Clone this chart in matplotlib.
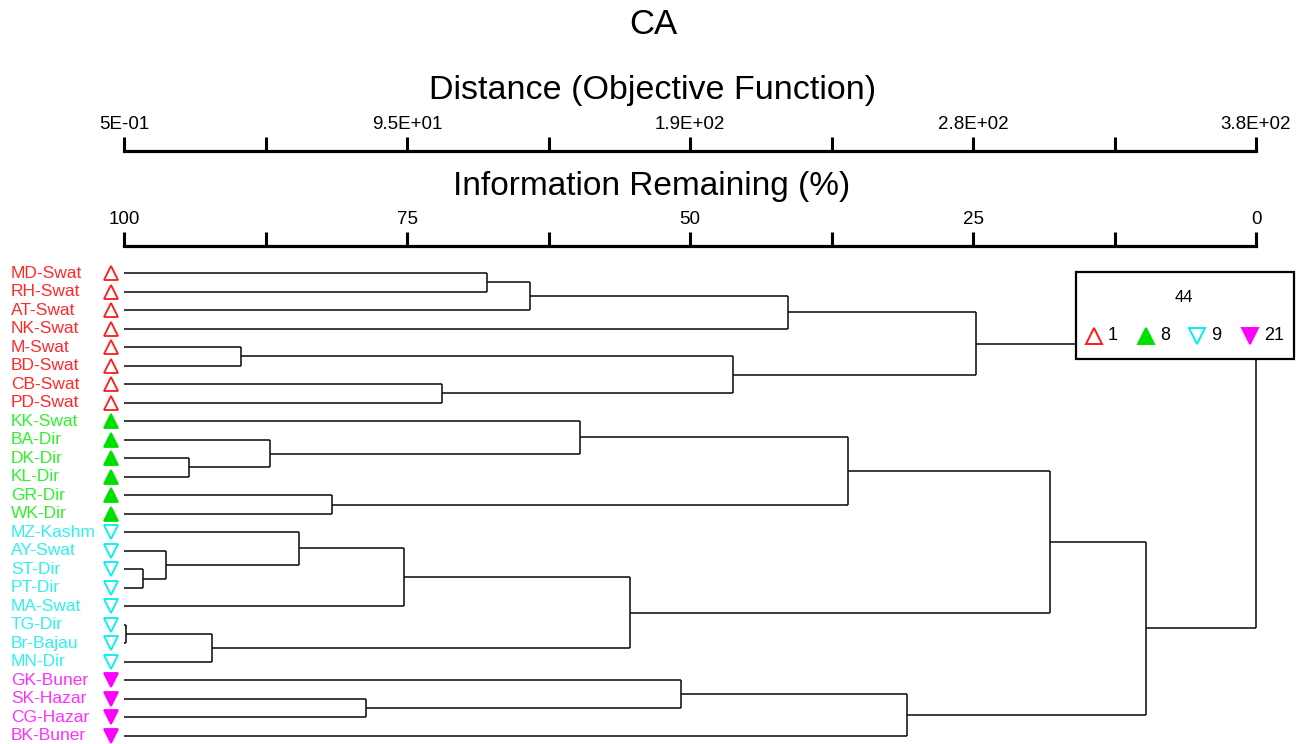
import matplotlib
matplotlib.use("Agg")
import matplotlib.pyplot as plt
from matplotlib.patches import Rectangle
from matplotlib.transforms import blended_transform_factory

plt.rcParams['font.family'] = ['Liberation Sans', 'DejaVu Sans']

# leaves, top to bottom
leaves = ["MD-Swat", "RH-Swat", "AT-Swat", "NK-Swat", "M-Swat", "BD-Swat", "CB-Swat", "PD-Swat",
          "KK-Swat", "BA-Dir", "DK-Dir", "KL-Dir", "GR-Dir", "WK-Dir",
          "MZ-Kashm", "AY-Swat", "ST-Dir", "PT-Dir", "MA-Swat", "TG-Dir", "Br-Bajau", "MN-Dir",
          "GK-Buner", "SK-Hazar", "CG-Hazar", "BK-Buner"]
group = [1]*8 + [8]*6 + [9]*8 + [21]*4

# merges: (child a, child b, information remaining %); ints refer to earlier merges
merges = [
    ("MD-Swat", "RH-Swat", 67.9),    # 0
    (0, "AT-Swat", 64.1),            # 1
    (1, "NK-Swat", 41.3),            # 2
    ("M-Swat", "BD-Swat", 89.7),     # 3
    ("CB-Swat", "PD-Swat", 71.9),    # 4
    (3, 4, 46.2),                    # 5
    (2, 5, 24.7),                    # 6
    ("DK-Dir", "KL-Dir", 94.3),      # 7
    ("BA-Dir", 7, 87.1),             # 8
    ("KK-Swat", 8, 59.7),            # 9
    ("GR-Dir", "WK-Dir", 81.6),      # 10
    (9, 10, 36.0),                   # 11
    ("ST-Dir", "PT-Dir", 98.3),      # 12
    ("AY-Swat", 12, 96.3),           # 13
    ("MZ-Kashm", 13, 84.5),          # 14
    (14, "MA-Swat", 75.3),           # 15
    ("TG-Dir", "Br-Bajau", 99.8),    # 16
    (16, "MN-Dir", 92.2),            # 17
    (15, 17, 55.3),                  # 18
    (11, 18, 18.2),                  # 19
    ("SK-Hazar", "CG-Hazar", 78.6),  # 20
    ("GK-Buner", 20, 50.8),          # 21
    (21, "BK-Buner", 30.8),          # 22
    (19, 22, 9.7),                   # 23
    (6, 23, 0.0),                    # 24
]

dist_ticks = [0.5 + k * (380 - 0.5) / 8 for k in range(9)]
dist_labels = ["5E-01", "", "9.5E+01", "", "1.9E+02", "", "2.8E+02", "", "3.8E+02"]
info_ticks = [100 - 12.5 * k for k in range(9)]
info_labels = ["100", "", "75", "", "50", "", "25", "", "0"]

legend_groups = [1, 8, 9, 21]
styles = {
    1: dict(marker='^', mfc='none', mec='#ff1a1a', text='#ff2a2a'),
    8: dict(marker='^', mfc='#00e000', mec='#00e000', text='#30f030'),
    9: dict(marker='v', mfc='none', mec='#00f0f0', text='#30f0f0'),
    21: dict(marker='v', mfc='#ff00ff', mec='#ff00ff', text='#ff30ff'),
}

W, H = 1311, 744
fig = plt.figure(figsize=(W / 100, H / 100), dpi=100)

# layout in pixels
x0, x1 = 124, 1256
row0, drow = 273, 18.52
top_px = 262
ylo = (top_px - row0) / drow
yhi = (H - row0) / drow

ax = fig.add_axes([x0 / W, 0, (x1 - x0) / W, (H - top_px) / H])
ax.set_xlim(100, 0)
ax.set_ylim(yhi, ylo)
ax.axis('off')

# dendrogram
pos = {name: (i, 100.0) for i, name in enumerate(leaves)}
node = []
lw = 1.15
for a, b, h in merges:
    pa = node[a] if isinstance(a, int) else pos[a]
    pb = node[b] if isinstance(b, int) else pos[b]
    for y, hc in (pa, pb):
        ax.plot([hc, h], [y, y], color='#111111', lw=lw, clip_on=False, solid_capstyle='butt')
    ax.plot([h, h], [pa[0], pb[0]], color='#111111', lw=lw, clip_on=False, solid_capstyle='butt')
    node.append(((pa[0] + pb[0]) / 2, h))

# overlay in pixel coordinates
ov = fig.add_axes([0, 0, 1, 1])
ov.set_xlim(0, W)
ov.set_ylim(H, 0)
ov.axis('off')
ov.patch.set_alpha(0)

tr = blended_transform_factory(ov.transData, ax.transData)
for i, (name, g) in enumerate(zip(leaves, group)):
    st = styles[g]
    ov.text(11, i, name, transform=tr, color=st['text'], fontsize=12.5, va='center', ha='left')
    ov.plot([111], [i], transform=tr, marker=st['marker'], ms=9.5, mfc=st['mfc'],
            mec=st['mec'], mew=1.3, ls='none', clip_on=False)

# titles
ov.text(653, 25, "CA", fontsize=25, ha='center', va='center')
ov.text(653, 91, "Distance (Objective Function)", fontsize=24.5, ha='center', va='center')
ov.text(652, 187, "Information Remaining (%)", fontsize=24, ha='center', va='center')

# legend box
ov.add_patch(Rectangle((1076, 272), 1294 - 1076, 359 - 272, facecolor='white',
                       edgecolor='black', lw=1.6, zorder=5))
ov.text(1184, 298, "44", fontsize=12, ha='center', va='center', zorder=6)
for g, mx in zip(legend_groups, [1094, 1146, 1197, 1250]):
    st = styles[g]
    ov.plot([mx], [336], marker=st['marker'], ms=11, mfc=st['mfc'], mec=st['mec'],
            mew=1.4, ls='none', zorder=6)
    ov.text(mx + 14, 336, str(g), fontsize=13, ha='left', va='center', zorder=6)


def scale_axis(y_px, ticks, labels, lim):
    sa = fig.add_axes([x0 / W, (H - y_px) / H, (x1 - x0) / W, 0.5 / H])
    sa.set_xlim(*lim)
    sa.set_yticks([])
    for s in ('left', 'right', 'bottom'):
        sa.spines[s].set_visible(False)
    sa.spines['top'].set_linewidth(2.3)
    sa.spines['top'].set_capstyle('projecting')
    sa.patch.set_alpha(0)
    sa.xaxis.set_ticks_position('top')
    sa.set_xticks(ticks, labels)
    sa.tick_params(axis='x', direction='out', length=10, width=2.2, pad=3, labelsize=13.5)
    return sa


scale_axis(151.5, dist_ticks, dist_labels, (0.5, 380))
scale_axis(246.5, info_ticks, info_labels, (100, 0))

fig.savefig("out.png", dpi=100)
